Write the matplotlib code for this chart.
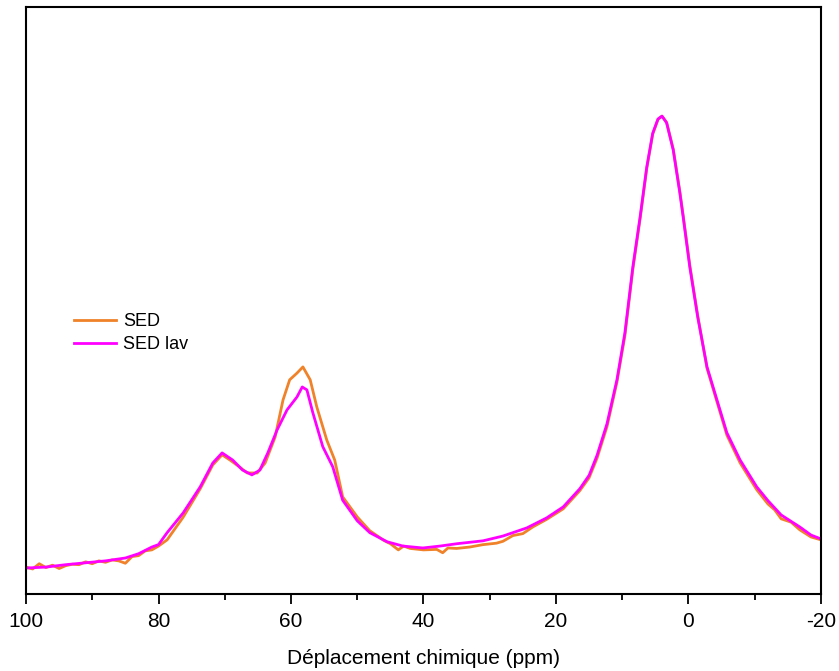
import numpy as np
import matplotlib.pyplot as plt

plt.rcParams['font.family'] = ['Liberation Sans', 'DejaVu Sans']
plt.rcParams['axes.unicode_minus'] = False

# chemical shift (ppm) and intensity (arb. units)
ppm_lav = [100, 97, 94, 91, 88, 85, 83, 81, 80, 78.7, 76.3, 73.7, 71.8, 70.4,
           68.8, 67.3, 65.9, 64.7, 63.5, 62.1, 60.6, 59.1, 58.3, 57.6, 56.7,
           55.2, 53.7, 52.2, 50.0, 48.1, 45.5, 43.1, 40.1, 37.5, 34.9, 31.0,
           28.0, 24.4, 21.4, 18.9, 16.4, 15.0, 13.8, 12.3, 10.8, 9.6, 8.4, 7.3,
           6.3, 5.4, 4.6, 4.0, 3.3, 2.3, 1.3, 0.8, -0.2, -1.4, -2.8, -4.3, -5.8,
           -7.8, -10.3, -12, -14, -16.8, -18.5, -20]
sed_lav = [5.4, 5.6, 6.1, 6.5, 6.9, 7.5, 8.4, 9.8, 10.3, 12.8, 16.9, 22.4, 27.4,
           29.5, 28.0, 25.9, 24.9, 25.9, 29.5, 34.3, 38.5, 41.2, 43.3, 42.7,
           37.9, 30.8, 26.6, 19.6, 15.3, 12.8, 10.9, 10.0, 9.6, 10.0, 10.5, 11.1,
           12.1, 13.8, 15.9, 18.2, 22.0, 24.8, 29.0, 35.6, 44.8, 54.6, 68.4,
           78.9, 89.3, 96.4, 99.4, 100.0, 98.6, 92.9, 83.9, 78.9, 68.4, 57.9,
           47.5, 40.6, 33.7, 28.0, 22.4, 19.5, 16.5, 14.0, 12.3, 11.5]

ppm_sed = [100, 99, 98, 97, 96, 95, 94, 93, 92, 91, 90, 89, 88, 87, 86, 85, 84,
           83, 82, 81, 80, 78.7, 76.3, 73.7, 71.8, 70.4, 69.2, 68.2, 66.6, 65.1,
           63.9, 62.4, 61.2, 60.2, 59.1, 58.2, 57.1, 56.1, 54.6, 53.4, 52.2,
           50.0, 48.1, 46, 45, 43.8, 43, 42, 40, 38, 37.1, 36.3, 35, 33, 31, 29,
           28, 26.5, 25, 23.5, 21.4, 18.9, 16.4, 15.0, 13.8, 12.3, 10.8, 9.6,
           8.4, 7.3, 6.3, 5.4, 4.6, 4.0, 3.3, 2.3, 1.3, 0.8, -0.2, -1.4, -2.8,
           -4.3, -5.8, -7.8, -10.3, -12, -13, -14, -15.5, -16.8, -18.5, -20]
sed = [5.6, 5.2, 6.3, 5.5, 6.0, 5.3, 5.9, 6.2, 6.1, 6.7, 6.3, 6.9, 6.6, 7.1, 6.9,
       6.4, 7.8, 8.0, 9.0, 9.2, 10.0, 11.3, 16.0, 22.0, 27.0, 29.1, 28.0, 27.0,
       25.3, 25.3, 27.4, 32.8, 40.6, 44.8, 46.2, 47.5, 44.8, 39.1, 32.2, 28.0,
       20.3, 16.1, 13.2, 11.2, 10.5, 9.2, 10.0, 9.5, 9.2, 9.3, 8.6, 9.6, 9.5,
       9.8, 10.3, 10.6, 11.0, 12.2, 12.6, 14.0, 15.6, 17.8, 21.6, 24.3, 28.4,
       35.0, 44.3, 54.0, 67.9, 78.5, 89.0, 96.2, 99.3, 100.0, 98.7, 93.1, 84.2,
       79.2, 68.8, 58.2, 47.2, 40.2, 33.2, 27.4, 21.8, 18.8, 17.6, 15.7, 15.0,
       13.4, 11.9, 11.3]

fig = plt.figure(figsize=(8.39, 6.71), dpi=100)
ax = fig.add_axes([0.031, 0.115, 0.9475, 0.875])

ax.plot(ppm_sed, sed, color='#F0822A', lw=2, label='SED')
ax.plot(ppm_lav, sed_lav, color='#FF00FF', lw=2, label='SED lav')

ax.set_xlim(100, -20)
ax.set_ylim(0, 122.9)
ax.set_xticks([100, 80, 60, 40, 20, 0, -20])
ax.set_xticks([90, 70, 50, 30, 10, -10], minor=True)
ax.set_yticks([])
ax.tick_params(axis='x', which='major', length=7, width=1.3, labelsize=15, pad=6,
               top=False)
ax.tick_params(axis='x', which='minor', length=4, width=1.3, top=False)
for s in ax.spines.values():
    s.set_linewidth(1.5)

ax.set_xlabel('Déplacement chimique (ppm)', fontsize=15, labelpad=13)

ax.legend(loc='upper left', bbox_to_anchor=(0.04, 0.506), frameon=False,
          fontsize=13, handlelength=2.3, handletextpad=0.4, labelspacing=0.35)

plt.savefig('out.png', dpi=100)
